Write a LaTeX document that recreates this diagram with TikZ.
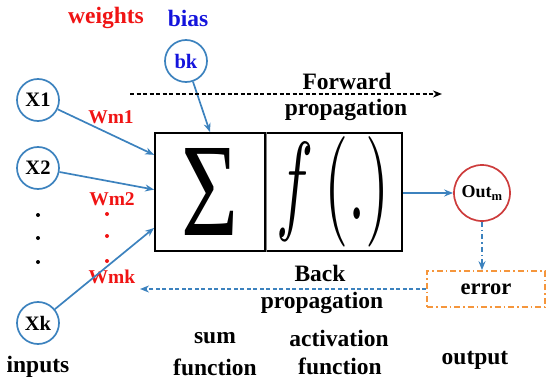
\documentclass[tikz,border=0pt]{standalone}
\usepackage{fontspec}
\setmainfont{Liberation Serif}
\usetikzlibrary{arrows.meta,calc}
\definecolor{cblue}{RGB}{60,130,190}
\definecolor{cred}{RGB}{240,20,20}
\definecolor{cdblue}{RGB}{20,20,220}
\definecolor{cout}{RGB}{205,60,60}
\definecolor{corange}{RGB}{245,150,60}
\begin{document}
\begin{tikzpicture}[x=1pt,y=-1pt,
  inc/.style={circle,draw=cblue,line width=1.7pt,minimum size=42pt,inner sep=0pt,font=\fontsize{20.5}{20.5}\selectfont\bfseries},
  lbl/.style={font=\fontsize{23.5}{23.5}\selectfont\bfseries},
  wl/.style={text=cred,font=\fontsize{19.5}{19.5}\selectfont\bfseries},
  conn/.style={draw=cblue,line width=1.7pt,-{Stealth[length=9pt,width=7pt]}},
  fbox/.style={draw,line width=1.8pt,minimum height=118pt,inner sep=0pt},
]
\useasboundingbox (0,0) rectangle (550,388);
% box
\node[fbox,minimum width=110pt] (sumbox) at (210,192) {\resizebox{57pt}{87pt}{Σ}};
\node[fbox,minimum width=137pt] (fbox) at (333.5,192) {\resizebox{113pt}{83pt}{$f\mkern3mu(.)$}};
\draw[gray,line width=0.8pt] (sumbox.north east) -- (sumbox.south east);
% inputs
\node[inc] (x1) at (38,100) {X1};
\node[inc] (x2) at (38,168) {X2};
\node[inc] (xk) at (38,323) {Xk};
\node[inc,text=cdblue] (bk) at (186,61) {bk};
\foreach \y [count=\i] in {215,238,262}{\fill (38,\y) circle (2pt) coordinate (bd\i);}
\foreach \y [count=\i] in {214,236,261}{\fill[cred] (107,\y) circle (2pt) coordinate (rd\i);}
% labels
\node[lbl,text=cred] (wlab) at (106,18) {weights};
\node[lbl,text=cdblue] (blab) at (188,18) {bias};
\node[wl] (w1) at (111,117) {Wm1};
\node[wl] (w2) at (112,199) {Wm2};
\node[wl] (wk) at (112,277) {Wmk};
% connectors
\draw[conn] (x1) -- ($(sumbox.north west)!0.19!(sumbox.south west)$);
\draw[conn] (x2) -- ($(sumbox.north west)!0.48!(sumbox.south west)$);
\draw[conn] (xk) -- ($(sumbox.north west)!0.80!(sumbox.south west)$);
\draw[conn] (bk) -- (sumbox.north);
% output
\node[circle,draw=cout,line width=1.7pt,minimum size=56pt,inner sep=0pt,font=\fontsize{18}{18}\selectfont\bfseries] (out) at (482,193) {Out\textsubscript{m}};
\node[draw=corange,line width=1.7pt,dash pattern=on 6pt off 3pt on 1.5pt off 3pt,minimum width=118pt,minimum height=36pt,font=\fontsize{22.5}{22.5}\selectfont\bfseries] (err) at (486,289) {error};
\draw[conn] (fbox.east |- out) -- (out);
\draw[conn,dash pattern=on 5pt off 3pt on 1.5pt off 3pt] (out) -- (out.south |- err.north);
% propagation arrows
\coordinate (fs) at (130,94);
\coordinate (fe) at (442,94);
\draw[line width=1.7pt,dash pattern=on 4pt off 2.5pt,-{Stealth[length=9pt,width=7pt]}] (fs) -- (fe);
\coordinate (be) at (140,289);
\draw[conn,dash pattern=on 4pt off 2.5pt] (err.west) -- (be);
\node[lbl] (fw1) at (347,81) {Forward};
\node[lbl] (fw2) at (346,110) {propagation};
\node[lbl] (bw1) at (320,273) {Back};
\node[lbl] (bw2) at (322,303) {propagation};
% bottom labels
\node[lbl] (in) at (38,367) {inputs};
\node[lbl] (s1) at (215,338) {sum};
\node[lbl] (s2) at (215,367) {function};
\node[lbl] (a1) at (339,338) {activation};
\node[lbl] (a2) at (340,366) {function};
\node[lbl] (op) at (475,360) {output};
\end{tikzpicture}
\end{document}
